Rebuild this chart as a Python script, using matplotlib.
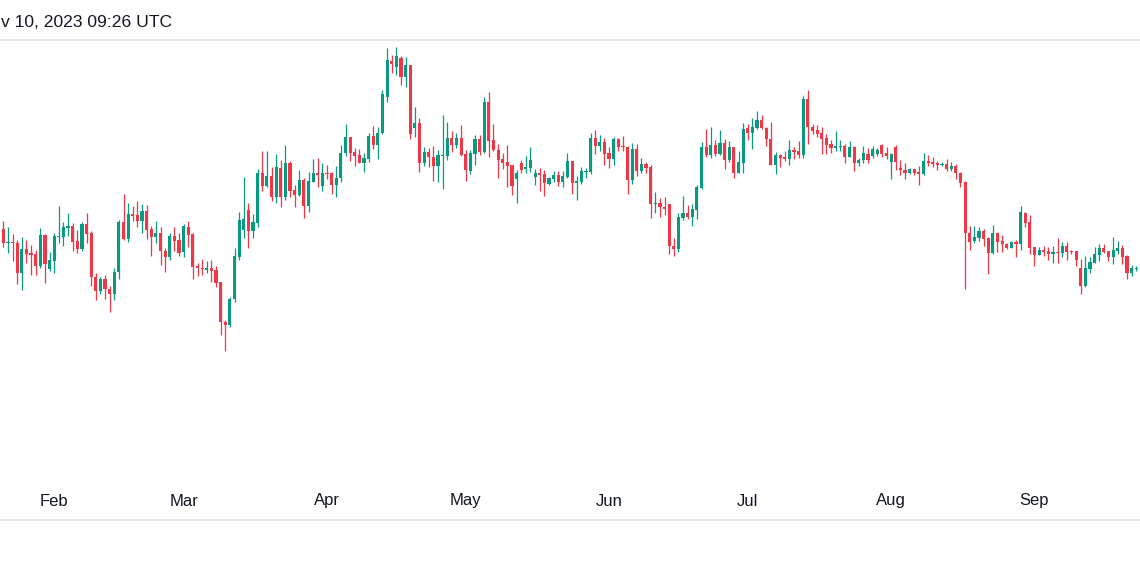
import matplotlib

matplotlib.use("Agg")
import matplotlib.pyplot as plt
import matplotlib.dates as mdates
import numpy as np
import pandas as pd

# daily candles, price in arbitrary chart units (axis is not shown)
start_date = "2023-01-20"
open_ = [135, 171, 157, 158, 157, 127, 151, 147, 146, 134, 165, 131, 139, 163, 163, 172, 174, 159, 151, 176,
         167, 123, 109, 121, 111, 106, 128, 178, 161, 186, 185, 179, 189, 171, 163, 167, 149, 143, 164, 160,
         148, 173, 166, 134, 132, 130, 132, 130, 118, 78, 75, 101, 143, 170, 190, 169, 177, 227, 214, 224,
         203, 232, 203, 237, 210, 205, 220, 194, 218, 227, 214, 227, 227, 215, 222, 247, 263, 248, 245, 237,
         241, 264, 255, 267, 303, 339, 333, 342, 323, 335, 272, 277, 237, 248, 243, 234, 244, 244, 262, 255,
         262, 246, 229, 246, 261, 248, 298, 260, 250, 241, 238, 235, 221, 237, 231, 232, 223, 227, 226, 216,
         221, 225, 218, 223, 239, 217, 218, 228, 228, 262, 254, 258, 247, 241, 261, 254, 253, 220, 251, 229,
         236, 233, 196, 197, 193, 196, 154, 151, 182, 187, 183, 190, 212, 253, 245, 255, 246, 257, 240, 253,
         227, 237, 272, 267, 272, 280, 272, 261, 235, 245, 243, 241, 250, 249, 245, 301, 273, 270, 267, 262,
         256, 252, 253, 254, 243, 253, 237, 240, 246, 244, 246, 255, 247, 238, 253, 232, 230, 227, 231, 228,
         226, 239, 238, 237, 235, 236, 231, 234, 227, 218, 167, 159, 162, 169, 162, 147, 167, 159, 156, 152,
         158, 156, 187, 178, 153, 145, 150, 149, 146, 148, 147, 154, 149, 149, 132, 114, 131, 137, 145, 152,
         149, 143, 149, 152, 144, 127, 131]
high = [173, 179, 173, 166, 160, 163, 160, 155, 150, 172, 166, 148, 167, 194, 178, 187, 177, 170, 178, 187,
        169, 127, 123, 125, 114, 132, 180, 206, 197, 194, 199, 196, 195, 174, 179, 173, 152, 167, 173, 167,
        176, 179, 167, 137, 141, 139, 140, 134, 118, 80, 103, 152, 188, 223, 197, 186, 231, 249, 249, 233,
        246, 240, 255, 239, 215, 230, 222, 228, 241, 242, 237, 235, 228, 234, 255, 276, 263, 252, 251, 247,
        267, 274, 273, 310, 352, 345, 353, 344, 343, 335, 293, 282, 253, 252, 254, 250, 285, 278, 269, 267,
        275, 250, 250, 265, 265, 303, 308, 276, 256, 247, 255, 235, 230, 240, 244, 253, 231, 232, 230, 223,
        229, 229, 229, 247, 239, 224, 233, 232, 267, 270, 265, 262, 253, 263, 262, 264, 254, 257, 256, 242,
        238, 235, 208, 202, 203, 196, 162, 187, 204, 195, 196, 215, 258, 271, 273, 260, 270, 261, 259, 253,
        249, 277, 276, 282, 289, 285, 273, 278, 248, 246, 249, 260, 253, 259, 304, 310, 276, 275, 273, 266,
        260, 269, 260, 256, 259, 254, 242, 254, 252, 254, 252, 256, 253, 247, 255, 240, 237, 232, 231, 234,
        247, 245, 243, 239, 238, 241, 238, 236, 228, 219, 174, 174, 173, 171, 163, 175, 168, 165, 157, 159,
        160, 194, 188, 185, 153, 153, 154, 153, 154, 162, 158, 158, 150, 149, 141, 144, 143, 153, 156, 156,
        149, 163, 159, 155, 145, 135, 134]
low = [125, 153, 147, 139, 116, 110, 137, 125, 125, 132, 117, 129, 127, 157, 154, 164, 149, 147, 149, 157,
       114, 100, 106, 101, 88, 100, 121, 160, 158, 179, 173, 167, 161, 144, 157, 135, 128, 140, 149, 144,
       143, 153, 121, 124, 125, 127, 118, 113, 65, 49, 73, 98, 140, 162, 152, 162, 173, 209, 213, 199,
       197, 193, 200, 203, 193, 204, 182, 188, 218, 213, 209, 221, 206, 203, 218, 244, 239, 234, 237, 228,
       238, 251, 241, 266, 298, 327, 325, 315, 313, 261, 263, 228, 234, 233, 219, 218, 211, 240, 248, 252,
       244, 219, 226, 235, 245, 247, 243, 249, 222, 231, 213, 205, 197, 227, 227, 228, 215, 209, 204, 215,
       218, 214, 213, 222, 206, 200, 216, 222, 226, 246, 249, 235, 232, 235, 249, 249, 206, 216, 224, 227,
       227, 182, 187, 183, 185, 146, 144, 148, 180, 181, 174, 181, 211, 243, 242, 244, 245, 231, 238, 222,
       227, 227, 260, 251, 271, 271, 254, 235, 226, 233, 239, 235, 241, 242, 242, 256, 266, 263, 246, 246,
       247, 249, 249, 237, 243, 229, 234, 237, 237, 242, 244, 243, 241, 221, 230, 225, 221, 226, 225, 215,
       225, 234, 233, 230, 234, 229, 229, 221, 213, 111, 150, 157, 159, 154, 126, 146, 148, 148, 151, 152,
       143, 150, 173, 146, 134, 145, 144, 140, 137, 137, 143, 140, 146, 134, 106, 113, 127, 137, 139, 147,
       139, 136, 146, 136, 121, 124, 129]
close = [171, 157, 158, 157, 127, 151, 146, 145, 134, 165, 136, 140, 164, 164, 173, 174, 158, 151, 176, 166,
         123, 109, 121, 111, 106, 128, 178, 161, 186, 184, 179, 189, 170, 163, 167, 149, 143, 164, 159, 147,
         174, 165, 133, 132, 131, 132, 129, 117, 78, 75, 101, 144, 180, 181, 169, 178, 227, 214, 224, 203,
         233, 203, 237, 209, 205, 220, 194, 219, 227, 225, 227, 226, 215, 222, 247, 263, 247, 244, 237, 242,
         264, 255, 267, 306, 340, 336, 344, 323, 335, 266, 277, 237, 248, 243, 234, 245, 245, 262, 255, 262,
         245, 230, 247, 261, 248, 298, 259, 250, 240, 237, 234, 214, 227, 230, 233, 240, 227, 225, 217, 222,
         225, 218, 224, 239, 217, 219, 229, 229, 262, 254, 258, 246, 241, 261, 253, 253, 220, 251, 229, 236,
         232, 196, 197, 193, 191, 154, 151, 183, 187, 183, 191, 213, 253, 245, 255, 246, 257, 240, 253, 227,
         238, 271, 267, 273, 280, 272, 261, 235, 245, 242, 241, 250, 248, 245, 301, 273, 269, 266, 261, 255,
         252, 254, 254, 243, 253, 237, 240, 247, 240, 251, 250, 246, 244, 246, 238, 230, 227, 231, 227, 226,
         239, 237, 236, 235, 236, 231, 234, 227, 217, 167, 158, 163, 169, 161, 147, 167, 158, 156, 152, 158,
         156, 188, 177, 152, 145, 150, 148, 146, 148, 147, 154, 148, 148, 140, 114, 132, 138, 146, 152, 148,
         143, 150, 152, 143, 127, 132, 132]

title_text = "v 10, 2023 09:26 UTC"

UP = "#089981"
DOWN = "#F23645"
TEXT = "#131722"
GRID = "#E0E3EB"
PX_PER_DAY = 4.624

dates = pd.date_range(start_date, periods=len(open_), freq="D")
x = mdates.date2num(dates)
o = np.array(open_, dtype=float)
h = np.array(high, dtype=float)
l = np.array(low, dtype=float)
c = np.array(close, dtype=float)
up = c >= o
colors = np.where(up, UP, DOWN)

fig = plt.figure(figsize=(11.4, 5.74), dpi=100)
ax = fig.add_axes([0, 0, 1, 1])
ax.set_axis_off()

ax.vlines(x, l, h, colors=colors, linewidth=0.9)
body_bot = np.minimum(o, c)
body_h = np.maximum(np.abs(c - o), 0.9)
ax.bar(x, body_h, bottom=body_bot, width=0.68, color=colors, linewidth=0)

left = x[0] + 1.3 / PX_PER_DAY
ax.set_xlim(left, left + 1140 / PX_PER_DAY)
ax.set_ylim(-174, 400)

# pane borders
ax.axhline(360, color=GRID, linewidth=1.2)
ax.axhline(-120, color=GRID, linewidth=1.2)

months = pd.date_range("2023-02-01", dates[-1], freq="MS")
for m in months:
    ax.text(mdates.date2num(m), -101, m.strftime("%b"), ha="center", va="center",
            fontsize=12, color=TEXT, family="Liberation Sans")

fig.text(1 / 1140, 1 - 22.5 / 574, title_text, ha="left", va="center",
         fontsize=12.6, color=TEXT, family="Liberation Sans")

fig.savefig("out.png", dpi=100)
